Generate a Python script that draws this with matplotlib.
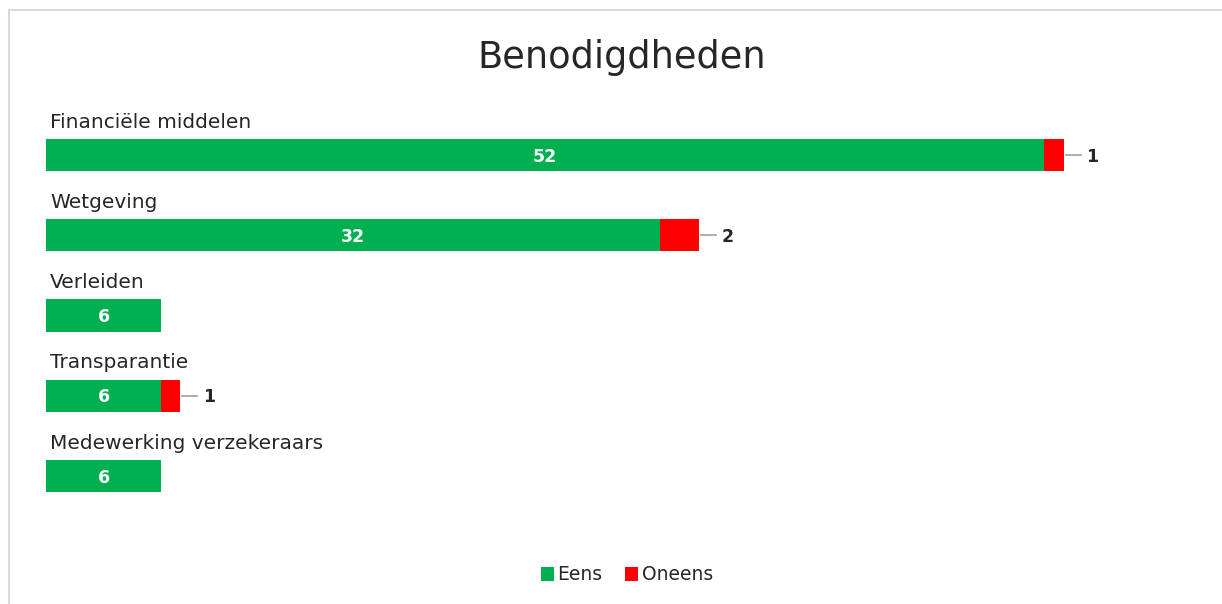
import matplotlib.pyplot as plt
from matplotlib.patches import Rectangle

categories = ["Financiële middelen", "Wetgeving", "Verleiden", "Transparantie",
              "Medewerking verzekeraars"]
eens = [52, 32, 6, 6, 6]
oneens = [1, 2, 0, 1, 0]

green = "#00B050"
red = "#FF0000"
txt = "#262626"
font = ["DejaVu Sans"]

W, H = 1222, 604
fig = plt.figure(figsize=(W / 100, H / 100), dpi=100)
fig.patches.append(Rectangle((9 / W, -0.05), (W - 9) / W + 0.05, 1 - 10 / H + 0.05,
                             transform=fig.transFigure, fill=False,
                             edgecolor="#d9d9d9", linewidth=1.5))

ax = fig.add_axes([46 / W, 1 - 516 / H, 1152 / W, 401 / H])
ax.set_xlim(0, 60)
ax.set_ylim(4.5, -0.5)
ax.axis("off")

y = list(range(len(categories)))
b1 = ax.barh(y, eens, height=0.4, color=green, label="Eens")
b2 = ax.barh(y, oneens, left=eens, height=0.4, color=red, label="Oneens")

px = 60 / 1152  # data units per pixel
for i, cat in enumerate(categories):
    ax.text(0.2, i - 0.41, cat, ha="left", va="center", fontsize=14.5,
            color=txt, family=font)
    ax.text(eens[i] / 2, i + 0.02, str(eens[i]), ha="center", va="center",
            fontsize=12.5, color="white", fontweight="bold", family=font)
    if oneens[i]:
        end = eens[i] + oneens[i]
        ax.plot([end + 2 * px, end + 17 * px], [i, i], color="#a6a6a6", lw=1.3)
        ax.text(end + 29 * px, i + 0.02, str(oneens[i]), ha="center", va="center",
                fontsize=12.5, color=txt, fontweight="bold", family=font)

fig.text(622 / W, 1 - 57 / H, "Benodigdheden", ha="center", va="center",
         fontsize=26.5, color=txt, family=font)

fig.legend(handles=[b1, b2], loc="center", bbox_to_anchor=(627 / W, 1 - 575 / H),
           ncol=2, frameon=False, handlelength=0.7, handleheight=0.7,
           handletextpad=0.2, columnspacing=1.2,
           prop={"family": font, "size": 13.5}, labelcolor=txt)

fig.savefig("out.png", dpi=100)
